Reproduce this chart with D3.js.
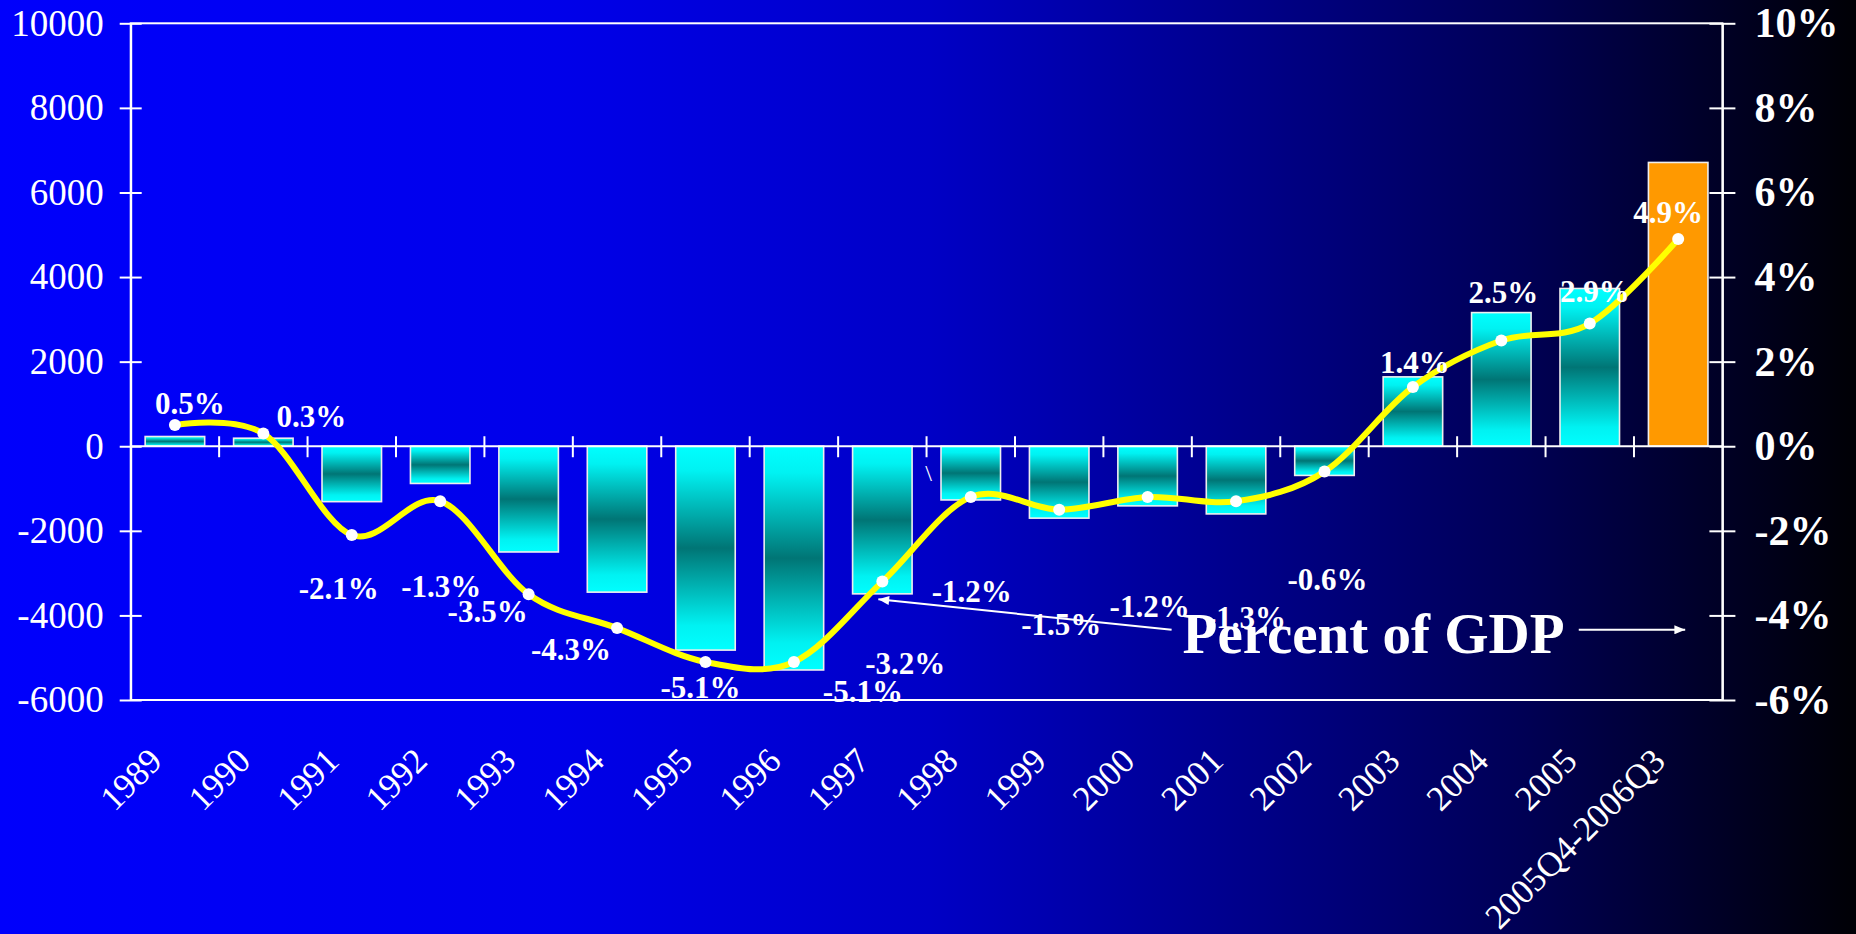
<!DOCTYPE html>
<html>
<head>
<meta charset="utf-8">
<script src="https://cdn.jsdelivr.net/npm/d3@7"></script>
<style>
  html, body { margin: 0; padding: 0; overflow: hidden; background: #000; }
  svg { display: block; }
</style>
</head>
<body>
<svg id="chart" width="1856" height="934"></svg>
<script>
// Categories along the bottom axis
const categories = ["1989", "1990", "1991", "1992", "1993", "1994", "1995", "1996", "1997",
  "1998", "1999", "2000", "2001", "2002", "2003", "2004", "2005", "2005Q4-2006Q3"];

// Balance (bars, left axis)
const balance = [230, 190, -1310, -880, -2500, -3450, -4820, -5290, -3490,
  -1270, -1700, -1410, -1600, -690, 1640, 3160, 3730, 6710];

// Balance as percent of GDP (line, right axis)
const pctGDP = [0.5, 0.3, -2.1, -1.3, -3.5, -4.3, -5.1, -5.1, -3.2,
  -1.2, -1.5, -1.2, -1.3, -0.6, 1.4, 2.5, 2.9, 4.9];

// Axis tick values
const leftTicks = [-6000, -4000, -2000, 0, 2000, 4000, 6000, 8000, 10000];
const rightTicks = [-6, -4, -2, 0, 2, 4, 6, 8, 10];

// Offsets of each percent label from its point (px)
const labelOffsets = [[15, -11], [48, -7], [-13, 64], [1, 96], [-41, 28], [-46, 32], [-5, 36], [69, 40], [23, 92],
  [1, 105], [2, 125], [2, 120], [10, 127], [3, 118], [2, -14], [2, -38], [5, -22], [-10, -16]];

const W = 1856, H = 934;
const plot = { left: 130.7, right: 1722.4, top: 23.3, bottom: 700 };
const serif = "'Liberation Serif', 'Times New Roman', Times, serif";

const svg = d3.select("#chart");
const defs = svg.append("defs");

// Background: bright blue fading to black on the right
const bg = defs.append("linearGradient").attr("id", "bgGrad")
  .attr("x1", "0%").attr("y1", "0%").attr("x2", "100%").attr("y2", "0%");
[[0, "rgb(0,0,252)"], [0.3, "rgb(0,0,234)"], [0.5, "rgb(0,0,198)"], [0.68, "rgb(0,0,135)"],
 [0.82, "rgb(0,0,85)"], [1, "rgb(0,0,5)"]].forEach(([o, c]) =>
  bg.append("stop").attr("offset", o).attr("stop-color", c));
svg.append("rect").attr("width", W).attr("height", H).attr("fill", "url(#bgGrad)");

// Bar fill: cyan at the ends, teal in the middle
const barGrad = defs.append("linearGradient").attr("id", "barGrad")
  .attr("x1", "0").attr("y1", "0").attr("x2", "0").attr("y2", "1");
[[0, "#00ffff"], [0.12, "#00f2f2"], [0.5, "#007575"], [0.88, "#00f2f2"], [1, "#00ffff"]].forEach(([o, c]) =>
  barGrad.append("stop").attr("offset", o).attr("stop-color", c));

// Arrow head marker
defs.append("marker").attr("id", "arrow")
  .attr("viewBox", "0 0 12 10").attr("refX", 12).attr("refY", 5)
  .attr("markerWidth", 12).attr("markerHeight", 9).attr("markerUnits", "userSpaceOnUse")
  .attr("orient", "auto")
  .append("path").attr("d", "M0,0L12,5L0,10Z").attr("fill", "#fff");

// Scales
const x = d3.scaleBand().domain(categories).range([plot.left, plot.right])
  .paddingInner(0.327).paddingOuter(0.1635);
const y = d3.scaleLinear().domain([-6000, 10000]).range([plot.bottom, plot.top]);
const y2 = d3.scaleLinear().domain([-6, 10]).range([plot.bottom, plot.top]);
const xc = c => x(c) + x.bandwidth() / 2;

// Plot frame (top and bottom edges)
svg.append("rect")
  .attr("x", plot.left).attr("y", plot.top)
  .attr("width", plot.right - plot.left).attr("height", plot.bottom - plot.top)
  .attr("fill", "none").attr("stroke", "#fff").attr("stroke-width", 2);

// Left axis
const gL = svg.append("g").attr("transform", `translate(${plot.left},0)`)
  .call(d3.axisLeft(y).tickValues(leftTicks).tickSizeInner(11).tickSizeOuter(0)
    .tickPadding(16).tickFormat(d => String(d)));
gL.select(".domain").attr("stroke", "#fff").attr("stroke-width", 2);
gL.selectAll(".tick line").attr("x1", 11).attr("stroke", "#fff").attr("stroke-width", 2);
gL.selectAll(".tick text").attr("fill", "#fff")
  .style("font-family", serif).style("font-size", "37px");

// Right axis
const gR = svg.append("g").attr("transform", `translate(${plot.right},0)`)
  .call(d3.axisRight(y2).tickValues(rightTicks).tickSizeInner(13).tickSizeOuter(0)
    .tickPadding(19).tickFormat(d => d + "%"));
gR.select(".domain").attr("stroke", "#fff").attr("stroke-width", 2);
gR.selectAll(".tick line").attr("x1", -13).attr("stroke", "#fff").attr("stroke-width", 2);
gR.selectAll(".tick text").attr("fill", "#fff")
  .style("font-family", serif).style("font-size", "42px").style("font-weight", "bold");

// Bars
svg.append("g").selectAll("rect").data(categories).join("rect")
  .attr("x", c => x(c))
  .attr("width", x.bandwidth())
  .attr("y", (c, i) => y(Math.max(0, balance[i])))
  .attr("height", (c, i) => Math.abs(y(balance[i]) - y(0)))
  .attr("fill", (c, i) => i === categories.length - 1 ? "#ff9900" : "url(#barGrad)")
  .attr("stroke", "#eeeeee").attr("stroke-width", 1.6);

// Zero line with category separators
const y0 = y(0);
svg.append("line").attr("x1", plot.left).attr("x2", plot.right)
  .attr("y1", y0).attr("y2", y0).attr("stroke", "#fff").attr("stroke-width", 2);
const gap = x.step() * x.paddingInner() / 2;
svg.append("g").selectAll("line").data(categories.slice(1)).join("line")
  .attr("x1", c => x(c) - gap).attr("x2", c => x(c) - gap)
  .attr("y1", y0 - 10).attr("y2", y0 + 11)
  .attr("stroke", "#fff").attr("stroke-width", 2);

// Category labels, rotated
const gX = svg.append("g").attr("transform", `translate(0,${plot.bottom})`)
  .call(d3.axisBottom(x).tickSize(0));
gX.select(".domain").remove();
gX.selectAll(".tick text")
  .attr("x", 0).attr("y", 0).attr("dy", 0)
  .attr("text-anchor", "end")
  .attr("transform", "translate(-11,63) rotate(-45)")
  .attr("fill", "#fff")
  .style("font-family", serif).style("font-size", "35px");

// Percent-of-GDP line
const pts = categories.map((c, i) => [xc(c), y2(pctGDP[i])]);
svg.append("path").datum(pts)
  .attr("d", d3.line().curve(d3.curveCardinal.tension(0)))
  .attr("fill", "none").attr("stroke", "#ffff00").attr("stroke-width", 6)
  .attr("stroke-linejoin", "round");
svg.append("g").selectAll("circle").data(pts).join("circle")
  .attr("cx", d => d[0]).attr("cy", d => d[1]).attr("r", 6).attr("fill", "#fff");

// Percent labels
svg.append("g").selectAll("text").data(categories).join("text")
  .attr("x", (c, i) => pts[i][0] + labelOffsets[i][0])
  .attr("y", (c, i) => pts[i][1] + labelOffsets[i][1])
  .attr("text-anchor", "middle")
  .attr("fill", "#fff")
  .style("font-family", serif).style("font-size", "31px").style("font-weight", "bold")
  .text((c, i) => pctGDP[i].toFixed(1) + "%");

// Stray mark near the 1998 separator
svg.append("text")
  .attr("x", x("1998") - gap + 2).attr("y", y0 + 35)
  .attr("text-anchor", "middle").attr("fill", "#fff")
  .style("font-family", serif).style("font-size", "24px")
  .text("\\");

// "Percent of GDP" caption with its two arrows
const capY = y2(-4.34);
svg.append("line")
  .attr("x1", xc("2000") + 24).attr("y1", capY)
  .attr("x2", xc("1997") - 4).attr("y2", y2(-3.62))
  .attr("stroke", "#fff").attr("stroke-width", 2).attr("marker-end", "url(#arrow)");
svg.append("text")
  .attr("x", xc("2000") + 35).attr("y", y2(-4.9))
  .attr("fill", "#fff")
  .style("font-family", serif).style("font-size", "57px").style("font-weight", "bold")
  .text("Percent of GDP");
svg.append("line")
  .attr("x1", xc("2005") - 11).attr("y1", capY)
  .attr("x2", xc("2005Q4-2006Q3") + 7).attr("y2", capY)
  .attr("stroke", "#fff").attr("stroke-width", 2).attr("marker-end", "url(#arrow)");
</script>
</body>
</html>
